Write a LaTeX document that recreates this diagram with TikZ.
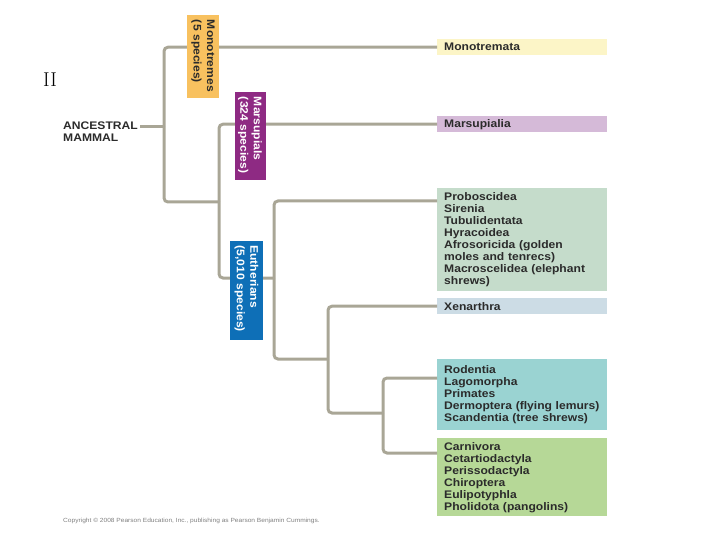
\documentclass[tikz,border=0pt]{standalone}
\usepackage{fontspec}
\newfontfamily\labfont[FakeStretch=1.1]{Liberation Sans}
\newcommand\boxfont{\labfont\bfseries\fontsize{11}{12}\selectfont}
\newcommand\tagfont{\labfont\bfseries\fontsize{11}{13.5}\selectfont}
\definecolor{branch}{HTML}{A9A696}
\definecolor{txt}{HTML}{2B2B2B}
\definecolor{monoC}{HTML}{FCF5C7}
\definecolor{marsC}{HTML}{D5BAD8}
\definecolor{afroC}{HTML}{C5DCCB}
\definecolor{xenC}{HTML}{CCDCE5}
\definecolor{euarC}{HTML}{9AD3D2}
\definecolor{lauC}{HTML}{B6D897}
\definecolor{monoL}{HTML}{F8C15F}
\definecolor{marsL}{HTML}{8E2A83}
\definecolor{euthL}{HTML}{0E6FB7}
\tikzset{
  branch/.style={draw=branch,line width=3pt,rounded corners=4pt},
  clade/.style={anchor=north west,minimum width=170pt,text width=156pt,inner xsep=7pt,inner ysep=0pt,align=left,font=\boxfont,text=txt},
  group/.style={rotate=-90,inner xsep=5pt,inner ysep=1pt,align=left,font=\tagfont}
}
\begin{document}
\begin{tikzpicture}[x=1pt,y=-1pt]
\useasboundingbox (0,0) rectangle (720,540);
\node[font=\fontsize{20}{24}\selectfont] (num) at (50,80) {II};
\node[anchor=west,inner sep=2pt,align=left,font=\boxfont,text=txt] (ancestral) at (61,132) {ANCESTRAL\\MAMMAL};
\node[clade,fill=monoC,minimum height=16pt] (monotremata) at (437,39) {Monotremata};
\node[clade,fill=marsC,minimum height=16pt] (marsupialia) at (437,116) {Marsupialia};
\node[clade,fill=afroC,minimum height=103pt] (afrotheria) at (437,188) {Proboscidea\\Sirenia\\Tubulidentata\\Hyracoidea\\Afrosoricida (golden\\moles and tenrecs)\\Macroscelidea (elephant\\shrews)};
\node[clade,fill=xenC,minimum height=16pt] (xenarthra) at (437,298) {Xenarthra};
\node[clade,fill=euarC,minimum height=71pt] (euarchonto) at (437,359) {Rodentia\\Lagomorpha\\Primates\\Dermoptera (flying lemurs)\\Scandentia (tree shrews)};
\node[clade,fill=lauC,minimum height=78pt] (laurasia) at (437,438) {Carnivora\\Cetartiodactyla\\Perissodactyla\\Chiroptera\\Eulipotyphla\\Pholidota (pangolins)};
\coordinate (mammals) at (164,127);
\coordinate (therians) at (219,202);
\coordinate (eutherians) at (274,278);
\coordinate (xensplit) at (328,359);
\coordinate (boreo) at (383,413);
\draw[branch] (ancestral.east |- mammals) -- (mammals);
\draw[branch] (mammals) |- (monotremata.west);
\draw[branch] (mammals) |- (therians);
\draw[branch] (therians) |- (marsupialia.west);
\draw[branch] (therians) |- (eutherians);
\draw[branch] (eutherians) |- ([yshift=-13pt]afrotheria.north west);
\draw[branch] (eutherians) |- (xensplit);
\draw[branch] (xensplit) |- (xenarthra.west);
\draw[branch] (xensplit) |- (boreo);
\draw[branch] (boreo) |- ([yshift=-19pt]euarchonto.north west);
\draw[branch] (boreo) |- ([yshift=-15pt]laurasia.north west);
\node[group,fill=monoL,text=txt,minimum width=83pt,minimum height=32pt,text width=73pt] (monotremes) at (203,56.5) {Monotremes\\(5 species)};
\node[group,fill=marsL,text=white,minimum width=88pt,minimum height=31pt,text width=78pt] (marsupials) at (250,136) {Marsupials\\(324 species)};
\node[group,fill=euthL,text=white,minimum width=99pt,minimum height=33pt,text width=89pt] (eutherian) at (246.5,290) {Eutherians\\(5,010 species)};
\node[anchor=west,inner sep=0pt,text=gray,font=\labfont\fontsize{6}{7}\selectfont] (copy) at (63,521) {Copyright \copyright{} 2008 Pearson Education, Inc., publishing as Pearson Benjamin Cummings.};
\end{tikzpicture}
\end{document}
